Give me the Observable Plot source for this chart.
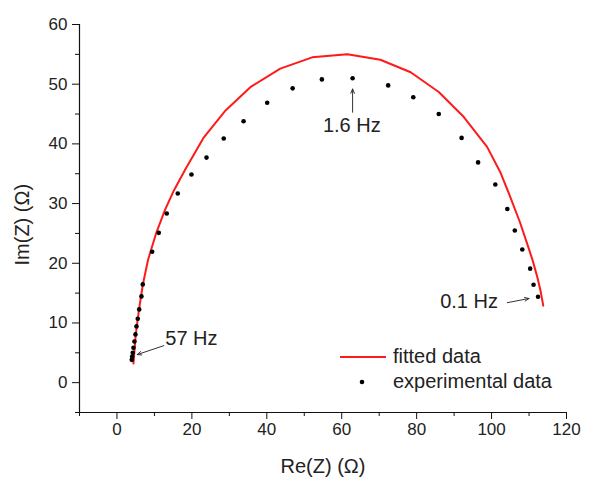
<!DOCTYPE html>
<html>
<head>
<meta charset="utf-8">
<script src="https://cdn.jsdelivr.net/npm/d3@7"></script>
<script src="https://cdn.jsdelivr.net/npm/@observablehq/plot@0.6"></script>
<style>
  html, body { margin: 0; padding: 0; background: #fff; }
  #wrap { position: relative; width: 589px; height: 478px; font-family: "Liberation Sans", Arial, sans-serif; }
  #legend { position: absolute; left: 338px; top: 344px; font-size: 20px; color: #222; line-height: 25px; }
  #legend .row { display: flex; align-items: center; height: 25px; }
  #legend svg { display: block; margin-right: 5px; }
</style>
</head>
<body>
<div id="wrap"></div>
<script>
// Experimental data: Re(Z), Im(Z) in ohms
const expRe = [3.95, 4.06, 4.22, 4.40, 4.67, 4.94, 5.21, 5.55, 5.93, 6.54, 6.89, 9.40, 11.16, 13.29, 16.23, 19.89, 23.9, 28.5, 33.8, 40.1, 46.9, 54.7, 62.9, 72.4, 79.1, 85.9, 92.0, 96.4, 101.0, 104.2, 106.2, 108.2, 110.3, 111.2, 112.4];
const expIm = [3.82, 4.39, 5.01, 5.85, 6.90, 8.08, 9.42, 10.71, 12.27, 14.45, 16.46, 21.93, 25.1, 28.35, 31.7, 34.88, 37.7, 40.9, 43.8, 46.9, 49.3, 50.8, 51.0, 49.8, 47.8, 45.0, 41.0, 36.9, 33.2, 29.1, 25.5, 22.3, 19.1, 16.4, 14.4];

// Fitted curve vertices
const fitRe = [4.4, 5.0, 5.9, 6.9, 8.3, 10.5, 12.8, 15.2, 18.3, 23.2, 29.0, 35.6, 43.6, 52.1, 61.5, 70.3, 78.4, 85.9, 92.6, 98.8, 102.3, 105.0, 107.5, 109.5, 111.0, 112.2, 113.1, 113.8];
const fitIm = [3.2, 8.0, 12.3, 16.4, 20.6, 25.1, 28.9, 32.2, 35.8, 41.1, 45.6, 49.5, 52.6, 54.5, 55.0, 54.1, 52.0, 48.7, 44.5, 39.5, 35.3, 31.1, 27.0, 23.3, 20.4, 17.7, 15.3, 12.9];

// Axis ticks
const xTicks = [0, 20, 40, 60, 80, 100, 120];
const xMinor = [-10, 10, 30, 50, 70, 90, 110];
const yTicks = [0, 10, 20, 30, 40, 50, 60];
const yMinor = [-5, 5, 15, 25, 35, 45, 55];
const xLabel = "Re(Z) (Ω)";
const yLabel = "Im(Z) (Ω)";

// Frequency annotations
const annLabels = ["57 Hz", "1.6 Hz", "0.1 Hz"];
const annTipRe = [5.4, 62.9, 110.0];
const annTipIm = [4.7, 49.2, 14.1];
const annTailRe = [12.5, 62.9, 104.2];
const annTailIm = [6.2, 45.3, 13.4];
const annTextRe = [12.9, 62.7, 101.7];
const annTextIm = [7.4, 43.1, 13.55];
const annAnchor = ["start", "middle", "end"];

const legendLabels = ["fitted data", "experimental data"];

const expData = expRe.map((x, i) => ({x, y: expIm[i]}));
const fitData = fitRe.map((x, i) => ({x, y: fitIm[i]}));
const annData = annLabels.map((label, i) => ({
  label, x1: annTailRe[i], y1: annTailIm[i], x2: annTipRe[i], y2: annTipIm[i],
  tx: annTextRe[i], ty: annTextIm[i], anchor: annAnchor[i]
}));

const font = "'Liberation Sans', Arial, sans-serif";
const annText = (anchor) => Plot.text(annData.filter(d => d.anchor === anchor), {
  x: "tx", y: "ty", text: "label", textAnchor: anchor, fontSize: 20, fill: "#222", lineAnchor: "middle"
});

const chart = Plot.plot({
  width: 589,
  height: 478,
  marginLeft: 79,
  marginRight: 23,
  marginTop: 24,
  marginBottom: 66,
  style: {fontFamily: font, fontSize: "17px", color: "#222", background: "#fff", overflow: "visible"},
  x: {domain: [-10, 120]},
  y: {domain: [-5, 60]},
  marks: [
    Plot.ruleX([-10], {stroke: "#111", strokeWidth: 1.2}),
    Plot.ruleY([-5], {stroke: "#111", strokeWidth: 1.2}),
    Plot.axisX({ticks: xMinor, tickSize: 4, tickFormat: () => "", label: null, stroke: "#111"}),
    Plot.axisY({ticks: yMinor, tickSize: 4, tickFormat: () => "", label: null, stroke: "#111"}),
    Plot.axisX({ticks: xTicks, tickSize: 7, tickPadding: 3, label: null, stroke: "#111", fontSize: 17, fill: "#222"}),
    Plot.axisY({ticks: yTicks, tickSize: 7, tickPadding: 5, label: null, stroke: "#111", fontSize: 17, fill: "#222"}),
    Plot.text([xLabel], {frameAnchor: "bottom", dy: 54, fontSize: 20, fill: "#222", lineAnchor: "middle"}),
    Plot.text([yLabel], {frameAnchor: "left", dx: -57, dy: 47, rotate: -90, fontSize: 20, fill: "#222", lineAnchor: "middle"}),
    Plot.line(fitData, {x: "x", y: "y", stroke: "#ff1a1a", strokeWidth: 2}),
    Plot.dot(expData, {x: "x", y: "y", r: 2.3, fill: "#000", stroke: "none"}),
    Plot.arrow(annData, {x1: "x1", y1: "y1", x2: "x2", y2: "y2", stroke: "#333", strokeWidth: 1, headLength: 7, headAngle: 45}),
    annText("start"),
    annText("middle"),
    annText("end")
  ]
});

const wrap = document.getElementById("wrap");
wrap.appendChild(chart);

const legend = document.createElement("div");
legend.id = "legend";
legend.innerHTML = `
  <div class="row"><svg width="50" height="10"><line x1="2" y1="5" x2="48" y2="5" stroke="#ff1a1a" stroke-width="2"/></svg><span>${legendLabels[0]}</span></div>
  <div class="row"><svg width="50" height="10"><circle cx="24" cy="5" r="2.3" fill="#000"/></svg><span>${legendLabels[1]}</span></div>`;
wrap.appendChild(legend);
</script>
</body>
</html>
